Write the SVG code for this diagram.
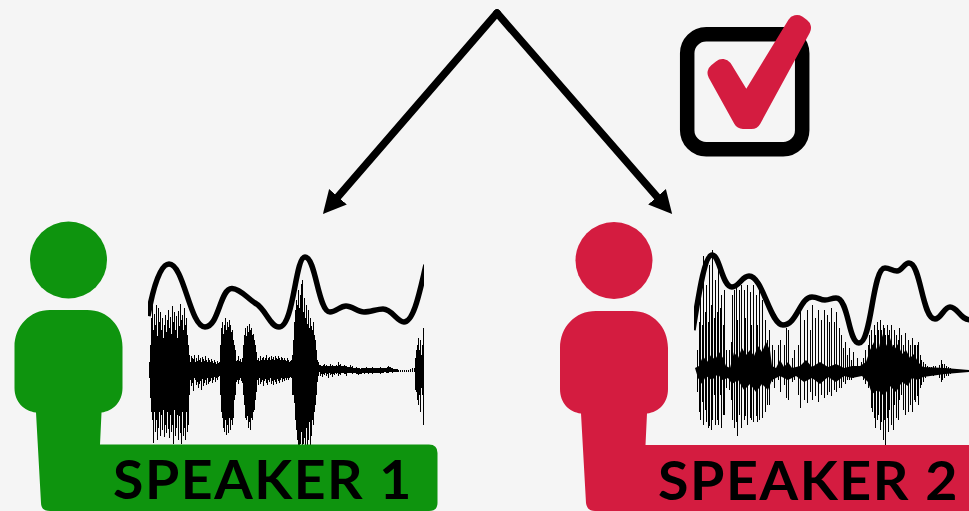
<svg xmlns="http://www.w3.org/2000/svg" width="969" height="511" viewBox="0 0 969 511">
<style>
.person-green{fill:#0e940e}
.person-red{fill:#d41c40}
.label{font-family:"Lato","Open Sans",sans-serif;font-weight:700;font-size:53px;letter-spacing:1.5px;fill:#000}
.spikes{fill:none;stroke:#000;stroke-width:1}
.core{fill:#000}
.envelope{fill:none;stroke:#000;stroke-width:5.5}
.arrow{stroke:#000;stroke-width:7.5;fill:none;stroke-linecap:round;marker-end:url(#head)}
</style>
<defs>
<marker id="head" markerUnits="userSpaceOnUse" markerWidth="24" markerHeight="24" refX="3" refY="12" orient="auto">
<polygon points="0,0.3 23,12 0,23.7" fill="#000"/>
</marker>
<clipPath id="clip1"><rect x="148" y="240" width="276" height="210"/></clipPath>
<clipPath id="clip2"><rect x="694" y="240" width="275" height="210"/></clipPath>
</defs>
<rect width="969" height="511" fill="#f5f5f5"/>

<g id="connectors">
<line class="arrow" x1="497" y1="13" x2="336" y2="199"/>
<line class="arrow" x1="497" y1="13" x2="659" y2="199"/>
</g>

<g id="checkbox">
<rect x="687.2" y="34.2" width="115" height="115" rx="19" fill="none" stroke="#000" stroke-width="14.5"/>
<polygon points="722.5,69 746.3,108 797,25 801,28 751.5,119 743,119 717.5,73" fill="#d41c40" stroke="#d41c40" stroke-width="20" stroke-linejoin="round"/>
</g>

<g id="speaker-1">
<circle class="person-green" cx="68.5" cy="260" r="38.5"/>
<g transform="translate(.5 0)">
<path class="spikes" d="M149 362V378M150 345V398M151 318V412M152 300V420M153 330V443M154 314V412M155 325V432M156 305V420M157 336V440M158 308V428M159 322V412M160 312V436M161 330V415M162 318V430M163 338V410M164 325V437M165 315V425M166 332V433M167 320V412M168 310V429M169 328V438M170 317V415M171 334V432M172 306V425M173 322V444M174 312V410M175 330V436M176 316V428M177 338V415M178 311V440M179 326V416M180 304V433M181 320V444M182 315V412M183 330V436M184 308V428M185 325V440M186 318V412M187 335V432M188 345V425M189 355V395M190 362V380"/>
<path class="spikes" d="M191 356V386M192 358V383M193 359V391M194 355V378M195 362V380M196 358V385M197 361V382M198 355V388M199 360V384M200 358V381M201 362V390M202 357V379M203 359V386M204 361V383M205 356V380M206 360V385M207 362V378M208 358V384M209 360V382M210 362V381M211 359V378M212 361V383M213 363V380M214 360V377M215 362V382M216 364V378M217 361V380M218 363V377M219 362V376"/>
<path class="spikes" d="M220 345V395M221 328V412M222 322V418M223 334V428M224 325V432M225 318V420M226 330V435M227 322V425M228 327V433M229 320V418M230 325V430M231 332V420M232 330V425M233 340V418M234 345V400M235 350V395"/>
<path class="spikes" d="M236 361V382M237 360V380M238 356V384M239 361V380M240 359V378M241 362V381M242 358V383M243 345V395M244 335V405M245 328V418M246 336V420M247 326V416M248 332V428M249 324V422M250 330V430M251 328V418M252 335V420M253 334V412M254 340V410M255 345V400M256 352V392"/>
<path class="spikes" d="M257 360V380M258 358V385M259 361V378M260 356V384M261 360V382M262 358V380M263 357V386M264 360V381M265 358V379M266 355V383M267 360V385M268 358V380M269 357V382M270 360V378M271 356V384M272 359V381M273 357V385M274 360V380M275 356V382M276 358V384M277 359V379M278 356V381M279 358V383M280 360V380M281 357V378M282 358V382M283 360V379M284 358V381M285 360V378M286 361V380M287 358V378M288 360V380M289 362V378M290 361V377M291 360V378M292 355V395"/>
<path class="spikes" d="M293 340V395M294 322V403M295 310V420M296 300V430M297 305V440M298 290V445M299 308V445M300 295V444M301 284V432M302 280V445M303 312V444M304 298V438M305 318V445M306 305V428M307 324V445M308 310V440M309 328V422M310 318V445M311 326V436M312 330V420M313 322V425M314 335V412M315 340V405M316 350V395M317 360V382"/>
<path class="spikes" d="M318 362V376M319 365V372M320 365V376M321 366V374M322 366V377M323 365V374M324 364V375M325 366V373M326 365V376M327 366V374M328 366V378M329 366V373M330 364V375M331 366V374M332 365V377M333 366V374M334 366V375M335 366V373M336 365V374M337 366V373M338 362V376M339 365V374M340 364V375M341 366V373M342 366V373M343 366V373M344 365V374M345 366V374M346 366V376M347 367V373M348 367V373M349 367V373M350 365V373M351 367V373M352 366V374M353 368V373M354 368V373M355 368V373M356 367V374M357 368V374M358 368V375M359 368V374M360 369V374M361 368V374M362 368V373M363 368V373M364 368V374M365 368V373M366 367V373M367 368V373M368 368V374M369 368V373M370 368V373M371 368V373M372 367V374M373 368V373M374 368V373M375 368V373M376 368V373M377 368V373M378 368V373M379 368V373M380 367V374M381 368V373M382 368V373M383 368V373M384 368V372M385 368V372M386 368V373M387 367V373M388 366V373M389 367V372M390 367V372M391 368V372M392 368V373M393 369V372M394 369V372M395 369V372M396 369V372M397 369V372M398 370V372M400 370V372M402 370V372M404 370V372M406 370V372M408 370V372M410 369V372M412 368V372M414 368V372M415 358V390M416 350V392M417 345V400M418 338V405M419 350V395M420 340V412M421 355V388M422 345V395M423 328V425"/>
</g>
<path class="envelope" clip-path="url(#clip1)" d="M148 316C153 288 160 264 169 264C184 264 190 327 205 327C219 327 220 288 232 288.500C241 289 248 299 255 303C266 309 270 327 279 327C294 327 295 257 305 257C316 257 318 312 330 312C336 312 340 306 346 306C352 306 358 312 364 312C370 312 377 309 383 309C392 309 397 322 404 322C414 322 420 290 426 265"/>
<path class="person-green" d="M50 310H87C108 310 122.500 326 122.500 347V388C122.500 402 113 411 101.500 412.500L100 444.500H429Q437.500 444.500 437.500 453V503Q437.500 511 429 511H50Q41 511 41 503L36 412.500C24 411 14.500 402 14.500 388V347C14.500 326 30 310 50 310Z"/>
<text class="label" x="113" y="499" textLength="300" lengthAdjust="spacingAndGlyphs">SPEAKER 1</text>
</g>

<g id="speaker-2">
<circle class="person-red" cx="614" cy="260.500" r="38.500"/>
<g transform="translate(.5 0)">
<path class="spikes" d="M697 350V392M699 322V412M700 278V420M702 325V402M703 256V425M705 312V410M706 285V422M708 322V428M709 265V426M711 305V430M712 250V420M714 318V395M715 280V425M717 312V420M718 260V425M720 308V395M721 295V428M723 325V415M724 290V415M726 350V388M729 350V390M731 342V400M732 295V420M734 290V428M736 285V422M737 320V436M739 290V415M741 285V428M744 290V420M745 318V416M747 285V425M750 292V418M751 325V420M753 285V422M756 295V416M757 325V422M759 290V420M762 300V418M765 320V412M767 340V405M769 330V405M772 345V382M774 350V388M778 345V380M780 340V392M784 345V385M786 328V398M788 330V400M792 358V382M794 350V380M798 345V395M800 305V408M804 320V400M807 310V403M810 330V392M812 305V400M815 318V396M818 310V402M821 320V395M824 310V398M827 315V395M829 322V392M831 308V396M834 322V390M836 312V392M839 328V388M841 335V388M843 348V382M845 342V384M847 355V380M849 348V380M851 360V380M853 352V378M857 358V376M861 362V376M863 358V380M865 350V384M868 345V388M869 335V385M871 330V408M872 345V412M874 325V418M875 335V428M877 322V420M878 330V415M880 320V430M881 330V422M883 325V440M884 328V420M885 335V445M887 325V418M888 335V432M889 330V410M891 325V425M893 345V430M894 330V405M896 335V418M898 340V420M899 328V400M901 335V395M903 345V410M905 333V415M908 340V412M910 345V405M912 338V412M914 345V400M915 345V402M917 345V396M918 342V405M920 355V388M921 360V385M923 362V382M925 364V378M927 366V376M929 367V375M931 367V375M933 366V376M935 366V374M937 368V375M939 365V378M941 360V382M942 364V380M944 364V378M946 366V376M948 367V376M950 368V374M953 369V373M956 370V373M960 370V372M964 370V372M968 370V372"/>
</g>
<polygon class="core" points="695,368 699,366 703,356 707,362 711,355 715,360 719,352 723,358 726,366 730,368 734,352 738,358 742,348 746,355 750,350 754,356 758,346 762,352 766,342 770,350 772,366 776,368 780,360 784,367 788,362 792,368 800,366 806,360 812,367 820,362 828,367 836,364 844,368 852,366 860,366 866,362 870,350 874,342 878,352 882,334 886,346 890,338 894,350 898,344 902,354 906,350 910,358 914,354 918,362 923,367 945,368 969,370 969,372 945,374 923,377 918,380 912,378 908,386 902,382 896,392 890,386 884,396 878,390 872,394 868,382 862,376 852,378 844,376 836,382 828,377 820,384 812,378 804,382 796,376 788,380 780,376 772,380 768,390 762,384 756,392 750,384 744,390 738,380 732,384 728,378 722,380 718,374 712,380 706,376 702,384 698,378"/>
<path class="envelope" clip-path="url(#clip2)" d="M693 330C698 300 704 255 712 255C720 255 722 287 732 287C739 287 742 276 749 276C763 276 770 325 783 325C797 325 800 297 812 297C818 297 820 300 825 300C830 300 831 298 836 298C849 298 848 343 859 343C872 343 872 268 885 268C890 268 892 271 897 271C902 271 904 263 909 263C921 263 922 319 935 319C941 319 944 307 950 307C958 307 960 320 971 320"/>
<path class="person-red" d="M596 311H632C653 311 668 327 668 348V389C668 403 659 412 647 413.500L645.500 445H969V511H595Q587 511 586 503L581 413.500C569 412 560 403 560 389V348C560 327 575 311 596 311Z"/>
<text class="label" x="658" y="500" textLength="301" lengthAdjust="spacingAndGlyphs">SPEAKER 2</text>
</g>
</svg>
